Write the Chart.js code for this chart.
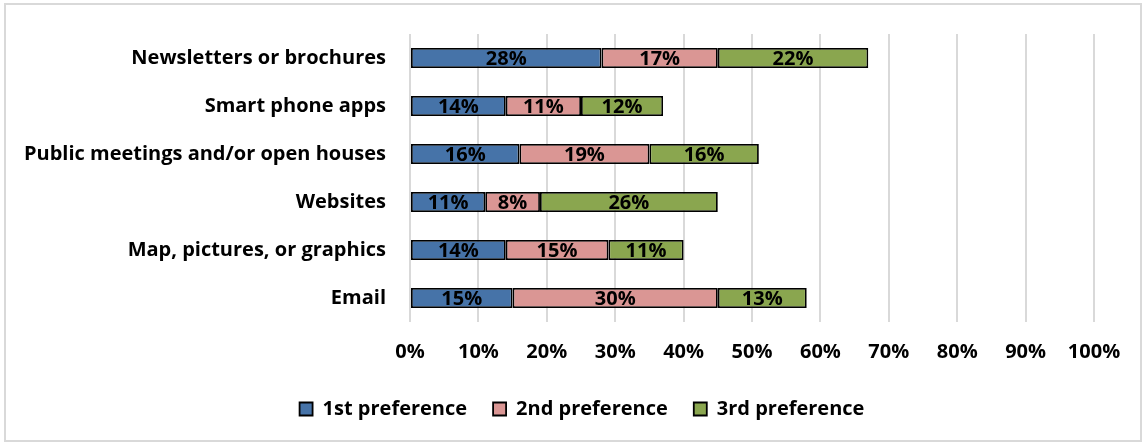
<!DOCTYPE html>
<html>
<head>
<meta charset="utf-8">
<script src="https://cdn.jsdelivr.net/npm/chart.js@4.4.1/dist/chart.umd.min.js"></script>
<style>
  html, body { margin: 0; padding: 0; background: #fff; }
  #box {
    position: absolute; left: 4px; top: 3px;
    width: 1134px; height: 435px;
    border: 2px solid #d9d9d9;
  }
  canvas { display: block; }
</style>
</head>
<body>
<div id="box"><canvas id="chart" width="1134" height="435"></canvas></div>
<script>
const channels = [
  'Newsletters or brochures',
  'Smart phone apps',
  'Public meetings and/or open houses',
  'Websites',
  'Map, pictures, or graphics',
  'Email'
];
const firstPref  = [28, 14, 16, 11, 14, 15];
const secondPref = [17, 11, 19, 8, 15, 30];
const thirdPref  = [22, 12, 16, 26, 11, 13];
const prefNames = ['1st preference', '2nd preference', '3rd preference'];
const prefColors = ['#4673a8', '#da9694', '#8aa64f'];

const FONT = '"Open Sans", Lato, sans-serif';

// writes the percentage in the middle of each segment
const segmentLabels = {
  id: 'segmentLabels',
  afterDatasetsDraw(chart) {
    const ctx = chart.ctx;
    ctx.save();
    ctx.font = 'bold 20px ' + FONT;
    ctx.fillStyle = '#000';
    ctx.textAlign = 'center';
    ctx.textBaseline = 'middle';
    chart.data.datasets.forEach((ds, i) => {
      chart.getDatasetMeta(i).data.forEach((bar, j) => {
        const cx = (bar.x + bar.base) / 2;
        ctx.fillText(ds.data[j] + '%', cx, bar.y + 1);
      });
    });
    ctx.restore();
  }
};

// nudges the legend block a little right and up under the bars
const legendNudge = {
  id: 'legendNudge',
  afterLayout(chart) {
    const lg = chart.legend;
    lg.left += 32; lg.right += 32;
    lg.top -= 9; lg.bottom -= 9;
  }
};

new Chart(document.getElementById('chart'), {
  type: 'bar',
  data: {
    labels: channels,
    datasets: [firstPref, secondPref, thirdPref].map((vals, i) => ({
      label: prefNames[i],
      data: vals,
      backgroundColor: prefColors[i],
      borderColor: '#000',
      borderWidth: 1.8,
      borderSkipped: false,
      barPercentage: 0.42,
      categoryPercentage: 1
    }))
  },
  options: {
    indexAxis: 'y',
    responsive: false,
    animation: false,
    layout: { padding: { top: 29, right: 46, bottom: 2, left: 0 } },
    plugins: {
      legend: {
        position: 'bottom',
        labels: {
          font: { family: FONT, size: 20, weight: 'bold' },
          color: '#000',
          boxWidth: 13,
          boxHeight: 13,
          padding: 26
        }
      },
      tooltip: { enabled: false }
    },
    scales: {
      x: {
        stacked: true,
        min: 0,
        max: 100,
        ticks: {
          stepSize: 10,
          padding: 18,
          color: '#000',
          font: { family: FONT, size: 20, weight: 'bold' },
          callback: v => v + '%'
        },
        grid: { color: '#d9d9d9', lineWidth: 2, drawTicks: false },
        border: { display: false }
      },
      y: {
        stacked: true,
        afterFit: s => { s.width = 404; },
        ticks: {
          padding: 16,
          color: '#000',
          font: { family: FONT, size: 20, weight: 'bold' }
        },
        grid: { display: false },
        border: { display: false }
      }
    }
  },
  plugins: [segmentLabels, legendNudge]
});
</script>
</body>
</html>
